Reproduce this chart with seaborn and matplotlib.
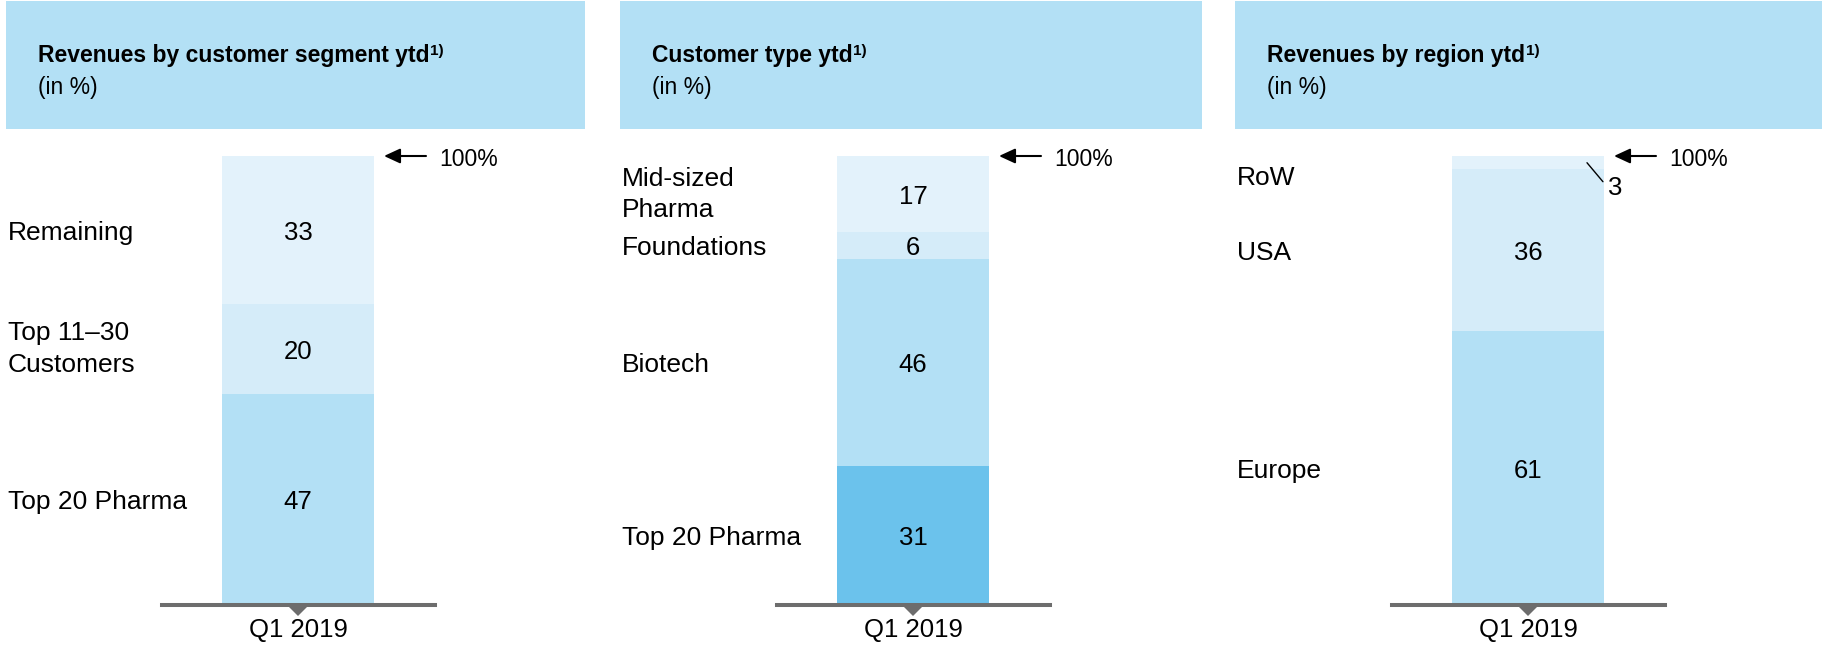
import matplotlib.pyplot as plt
import matplotlib.patches as mpatches
import matplotlib.transforms as mtrans
import numpy as np
import pandas as pd
import seaborn as sns

sns.set_style("white")
plt.rcParams['font.family'] = ['Liberation Sans', 'DejaVu Sans']
plt.rcParams['text.color'] = 'black'
plt.rcParams['xtick.color'] = 'black'

period = "Q1 2019"

titles = ["Revenues by customer segment ytd", "Customer type ytd", "Revenues by region ytd"]
subtitle = "(in %)"

# segments listed bottom -> top
seg_labels = ["Top 20 Pharma", "Top 11–30\nCustomers", "Remaining"]
seg_values = [47, 20, 33]

type_labels = ["Top 20 Pharma", "Biotech", "Foundations", "Mid-sized\nPharma"]
type_values = [31, 46, 6, 17]

region_labels = ["Europe", "USA", "RoW"]
region_values = [61, 36, 3]

seg_colors = ["#b3e0f5", "#d5ecf9", "#e3f2fb"]
type_colors = ["#6bc2ec", "#b3e0f5", "#d5ecf9", "#e3f2fb"]
region_colors = ["#b3e0f5", "#d5ecf9", "#e3f2fb"]

panels = [
    (seg_labels, seg_values, seg_colors),
    (type_labels, type_values, type_colors),
    (region_labels, region_values, region_colors),
]

W, H = 1825, 646
header_x = [(6, 585), (620, 1202), (1235, 1822)]
bar_centers = [298, 913, 1528]
ax_w = 273
bar_w = 152 / ax_w
y_top, y_base = 156, 605

fig = plt.figure(figsize=(W / 100, H / 100), dpi=100)

for i, (labels, values, colors) in enumerate(panels):
    hl, hr = header_x[i]
    fig.add_artist(mpatches.Rectangle((hl / W, 1 - 129 / H), (hr - hl) / W, 128 / H,
                                      transform=fig.transFigure, facecolor="#b3e0f5",
                                      edgecolor="none", zorder=0))
    t = fig.text((hl + 32) / W, 1 - 62 / H, titles[i], fontsize=16.5, fontweight="bold",
                 va="baseline", ha="left")
    fig.text((hl + 32) / W, 1 - 94 / H, subtitle, fontsize=16.5, va="baseline", ha="left")

    c = bar_centers[i]
    ax = fig.add_axes([(c - ax_w / 2) / W, 1 - y_base / H, ax_w / W, (y_base - y_top) / H])
    ax.annotate("1)", xy=(1, 1), xycoords=t, xytext=(0.5, 0), textcoords="offset points",
                fontsize=11, fontweight="bold", va="top", ha="left", annotation_clip=False)

    cum = np.cumsum(values)
    df = pd.DataFrame({"period": period, "cum": cum, "color": colors})
    # draw cumulative heights from the tallest down so each segment shows
    for k in range(len(df) - 1, -1, -1):
        sns.barplot(x=[df["period"][k]], y=[df["cum"][k]], color=df["color"][k],
                    saturation=1, width=bar_w, linewidth=0, edgecolor="none", ax=ax)

    ax.set_xlim(-0.5, 0.5)
    ax.set_ylim(0, 100)
    ax.set_xlabel("")
    ax.set_ylabel("")
    ax.set_yticks([])
    ax.set_facecolor("none")
    for s in ["top", "left", "right"]:
        ax.spines[s].set_visible(False)
    ax.spines["bottom"].set_color("#6d6d6d")
    ax.spines["bottom"].set_linewidth(2.9)
    ax.tick_params(axis="x", length=0, pad=9, labelsize=18.5, labelcolor="black")
    ax.add_patch(mpatches.Polygon([(0.5 - 11 / ax_w, 0), (0.5 + 11 / ax_w, 0), (0.5, -11 / 449)],
                                  closed=True, transform=ax.transAxes, facecolor="#6d6d6d",
                                  edgecolor="none", clip_on=False))

    lab_tr = mtrans.blended_transform_factory(fig.transFigure, ax.transData)
    bottoms = cum - np.array(values)
    for lab, v, b in zip(labels, values, bottoms):
        mid = b + v / 2
        if v < 5:
            ax.text((hl + 2) / W, 100 - 4.4, lab, transform=lab_tr, fontsize=19,
                    va="center_baseline", ha="left")
            ax.annotate(str(v), xy=(bar_w / 2 - 17 / ax_w, mid), xytext=(21, -25),
                        textcoords="offset pixels", fontsize=18.5, va="center", ha="left",
                        arrowprops=dict(arrowstyle="-", lw=1, color="black",
                                        relpos=(0, 0.5), shrinkA=2, shrinkB=0),
                        annotation_clip=False)
        else:
            ax.text((hl + 2) / W, mid, lab, transform=lab_tr, fontsize=19,
                    va="center_baseline" if "\n" not in lab else "center",
                    ha="left", linespacing=1.38)
            ax.text(0, mid, str(v), fontsize=18.5, va="center_baseline", ha="center")

    ax.annotate("", xy=(bar_w / 2, 100), xytext=(52, 0), textcoords="offset pixels",
                arrowprops=dict(arrowstyle="-|>,head_length=0.65,head_width=0.3",
                                mutation_scale=15, lw=1.5, color="black",
                                shrinkA=0, shrinkB=7.2),
                annotation_clip=False)
    ax.annotate("100%", xy=(bar_w / 2, 100), xytext=(65, -3), textcoords="offset pixels",
                fontsize=16.5, va="center", ha="left", annotation_clip=False)

fig.savefig("out.png", dpi=100)
